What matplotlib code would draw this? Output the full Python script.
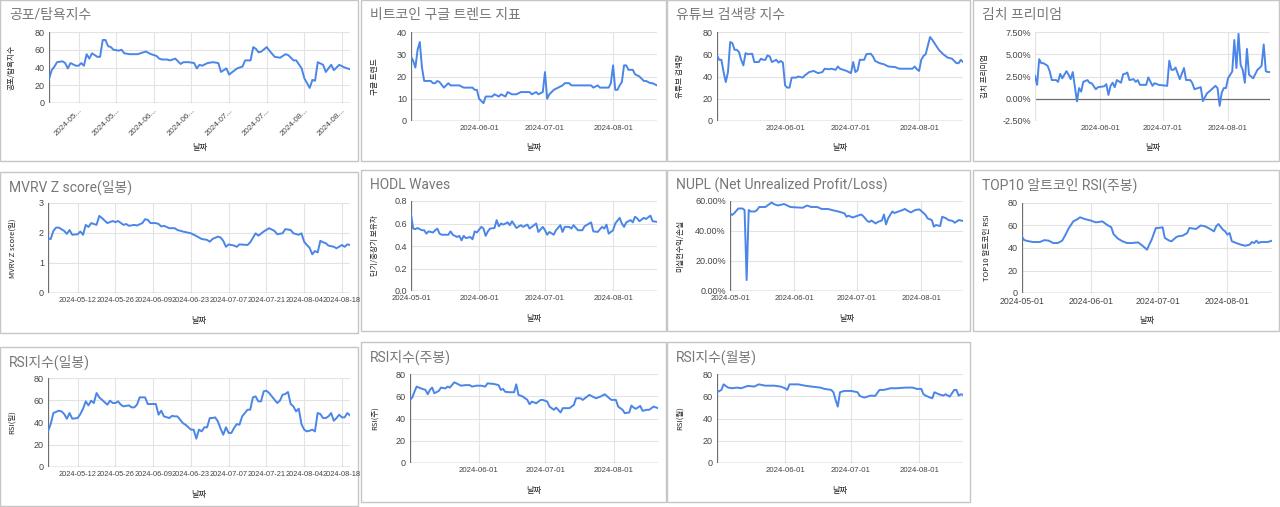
import numpy as np
import matplotlib
matplotlib.use('Agg')
import matplotlib.pyplot as plt
from matplotlib.patches import Rectangle
from matplotlib import font_manager

plt.rcParams['font.family'] = ['Noto Sans CJK KR', 'DejaVu Sans']

# fonts for tick labels (narrow one if installed)
names = {f.name for f in font_manager.fontManager.ttflist}
narrow = 'Liberation Sans Narrow' if 'Liberation Sans Narrow' in names else 'Liberation Sans'
normal = 'Liberation Sans' if 'Liberation Sans' in names else 'DejaVu Sans'
title_font = ['Roboto', 'Noto Sans CJK KR', 'DejaVu Sans'] if 'Roboto' in names else ['Noto Sans CJK KR', 'DejaVu Sans']

START = np.datetime64('2024-05-01')

# (day offset from 2024-05-01, value)
fear_greed = [(0,27),(1,37),(2,41),(3,46),(5,47),(6,45),(7,39),(8,45),(10,42),(11,42),(12,45),(13,42),(14,55),(15,50),(16,56),(18,52),(19,52),(20,71),(21,71),(22,64),(23,63),(24,60),(26,59),(27,60),(28,56),(30,55),(33,55),(35,57),(36,58),(38,55),(40,53),(41,50),(42,49),(44,49),(45,48),(47,50),(49,44),(50,46),(52,46),(54,45),(55,39),(56,43),(57,42),(59,45),(61,46),(63,45),(64,35),(66,39),(67,32),(70,39),(72,41),(73,48),(75,48),(76,63),(77,61),(78,57),(79,58),(81,63),(82,59),(84,52),(86,51),(88,55),(89,54),(91,48),(92,48),(94,39),(95,28),(97,17),(98,26),(99,25),(100,46),(102,43),(103,35),(105,43),(106,37),(108,43),(110,40),(111,39),(112,38)]

google_trend = [(0,29),(1,27),(2,24),(3,32),(4,35.5),(5,24),(6,18),(9,18),(10,17),(11,17),(12,18),(13,17.5),(15,15),(17,17),(18,16),(22,16),(24,15),(28,15),(29,14),(30,14),(31,10),(32,9),(33,8),(34,11),(37,11),(38,12),(40,11),(41,12),(43,11),(44,13),(46,12),(48,12),(50,13),(54,13),(55,12),(57,13),(58,12),(60,13),(61,22),(62,10),(63,12),(65,14),(67,15),(69,16),(70,17),(72,17),(73,16),(82,16),(83,15),(85,16),(86,15),(90,15),(91,17),(92,25),(93,14),(94,14),(95,16),(96,17.5),(97,25),(98,25),(99,23),(101,23),(102,21),(104,20),(106,18),(107,18),(109,17),(110,17),(112,16)]

youtube = [(0,59),(1,55),(2,55),(3,44),(4,35),(5,44),(6,71),(7,70),(8,64),(9,64),(10,62),(11,55),(12,50),(13,61),(14,60),(16,60.5),(17,53),(19,53),(20,56),(21,55),(22,55),(23,59),(24,58),(25,53),(26,54),(27,55),(28,52.5),(29,54),(30,52.5),(31,32),(32,30),(33,30),(34,39),(36,39),(37,40),(39,39),(40,41),(42,44),(44,45),(46,43),(48,44),(49,47),(51,46.5),(52,47),(54,46),(55,49),(56,47),(59,45),(61,43),(62,53),(63,44),(64,45.5),(65,55),(67,55),(68,60),(70,60.5),(71,58),(72,54),(74,52),(76,51),(78,49),(81,48.5),(83,47),(89,47),(90,49),(91,46.5),(92,45),(93,55),(94,58.5),(95,60),(97,75.5),(98,73),(99,70),(101,64),(103,60),(105,57),(107,56),(109,52),(110,52),(111,55),(112,53)]

kimchi = [(0,2.58),(1,1.56),(2,4.45),(3,4.0),(4,4.0),(6,3.7),(7,3.1),(8,2.1),(10,2.1),(11,1.9),(12,2.8),(13,2.3),(14,2.7),(15,3.1),(16,2.7),(17,2.2),(18,3.0),(20,-0.3),(21,1.2),(22,0.8),(23,1.9),(25,2.1),(26,1.8),(27,1.75),(29,1.07),(30,1.3),(33,1.4),(34,1.64),(35,0.43),(36,1.45),(37,1.8),(38,1.3),(39,2.1),(41,1.8),(42,2.76),(43,2.8),(44,2.95),(45,2.1),(47,2.2),(48,1.9),(49,2.1),(50,1.56),(53,1.56),(54,2.4),(56,1.45),(57,1.75),(59,1.56),(63,1.45),(64,4.27),(65,3.25),(66,3.25),(67,3.5),(69,2.2),(71,3.45),(72,2.1),(74,2.1),(75,1.75),(76,1.07),(79,1.3),(80,-0.26),(82,0.62),(83,0.8),(86,1.45),(87,1.2),(88,-0.8),(89,0.7),(90,1.2),(91,1.2),(92,2.3),(94,3.06),(95,6.6),(96,3.45),(97,7.3),(98,3.8),(99,3.25),(100,1.8),(101,5.6),(102,2.7),(104,2.3),(106,3.25),(107,3.45),(108,3.7),(109,6.1),(110,3.1),(111,3.0),(112,3.0)]

mvrv = [(0,1.82),(1,1.8),(2,2.07),(3,2.18),(4,2.18),(6,2.07),(7,1.97),(8,2.1),(9,1.94),(11,1.96),(12,2.05),(13,1.94),(14,2.27),(15,2.2),(16,2.33),(18,2.27),(19,2.57),(20,2.5),(22,2.33),(24,2.4),(25,2.36),(26,2.4),(28,2.27),(29,2.3),(30,2.24),(32,2.27),(33,2.25),(35,2.33),(36,2.46),(37,2.44),(38,2.33),(40,2.33),(41,2.3),(42,2.22),(43,2.24),(45,2.16),(47,2.16),(48,2.1),(50,2.05),(53,1.99),(55,1.9),(57,1.8),(59,1.77),(60,1.71),(61,1.8),(63,1.88),(64,1.85),(65,1.74),(66,1.54),(67,1.62),(69,1.58),(70,1.54),(71,1.62),(74,1.6),(75,1.69),(77,1.99),(78,1.91),(80,2.05),(82,2.16),(84,2.07),(85,1.96),(87,1.99),(88,2.13),(90,2.1),(91,1.99),(93,1.94),(94,1.99),(95,1.71),(96,1.6),(97,1.51),(98,1.29),(99,1.4),(100,1.35),(101,1.74),(102,1.69),(103,1.66),(104,1.58),(106,1.54),(107,1.49),(109,1.6),(110,1.54),(111,1.62),(112,1.6)]

hodl = [(0,0.68),(1,0.555),(2,0.55),(3,0.56),(5,0.54),(6,0.54),(7,0.51),(8,0.53),(10,0.52),(11,0.54),(12,0.555),(13,0.51),(14,0.5),(16,0.5),(17,0.5),(18,0.53),(19,0.5),(21,0.48),(22,0.49),(23,0.45),(24,0.49),(25,0.47),(27,0.48),(28,0.46),(29,0.53),(30,0.52),(32,0.57),(33,0.555),(34,0.49),(35,0.53),(36,0.555),(38,0.56),(39,0.63),(40,0.575),(41,0.6),(42,0.59),(44,0.61),(45,0.585),(46,0.62),(47,0.59),(48,0.56),(50,0.585),(51,0.57),(53,0.59),(54,0.555),(56,0.585),(57,0.6),(58,0.525),(60,0.57),(61,0.54),(62,0.5),(63,0.525),(65,0.5),(66,0.54),(68,0.585),(69,0.525),(70,0.57),(72,0.57),(73,0.555),(74,0.585),(76,0.54),(78,0.54),(79,0.575),(82,0.61),(83,0.53),(85,0.525),(87,0.57),(88,0.555),(89,0.59),(90,0.51),(92,0.54),(93,0.6),(95,0.65),(96,0.6),(97,0.57),(98,0.61),(100,0.63),(101,0.61),(102,0.66),(103,0.645),(104,0.62),(106,0.65),(107,0.64),(109,0.67),(110,0.62),(112,0.615)]

nupl = [(0,51.8),(1,50.7),(2,51.8),(4,55),(6,55),(7,54),(8,7.3),(9,54),(10,53),(12,53),(13,54),(14,56),(17,56),(18,57),(20,59),(21,58),(23,57),(26,58),(29,56),(31,55.8),(35,55.5),(37,57),(39,56),(42,56),(44,54.7),(47,54.7),(49,54),(52,53),(55,51.8),(56,49.5),(57,50.2),(59,49),(61,50),(63,51),(64,50),(66,46.7),(67,46),(68,47),(70,45),(71,46),(73,47),(74,51),(75,44.4),(76,48.4),(77,50.7),(78,53),(79,52),(81,53),(83,54),(84,54.7),(86,53),(87,52.4),(89,54),(91,54.4),(92,53.3),(94,50.7),(95,48.4),(97,47.3),(98,42.9),(99,44),(101,43.3),(102,49.5),(104,48.4),(105,47.3),(107,46.7),(108,45.5),(110,47.3),(112,46.7)]

top10_rsi = [(0,50),(1,47),(3,46),(5,45.3),(8,45.3),(10,47),(12,46.5),(14,44.4),(16,44.4),(18,46.5),(19,50),(21,57.8),(23,63.7),(25,65.8),(26,67.3),(28,65.8),(31,64.3),(33,62.8),(34,63),(36,63.7),(38,60.7),(40,58.4),(41,52.4),(43,48.3),(45,46),(47,44.4),(49,44.4),(52,45),(53,43.5),(54,42),(56,38.5),(57,43),(58,47),(60,57.8),(61,57.8),(63,58.4),(64,48.9),(66,46.5),(67,46),(69,49.5),(70,50.4),(72,51),(74,53.3),(75,57.8),(77,57.2),(78,56.9),(80,60),(82,59.3),(84,57.2),(86,54.8),(87,59.3),(88,61.3),(90,56.3),(91,54.8),(92,51.9),(93,53.3),(94,46),(96,44.4),(98,43),(100,42),(102,43),(103,45.3),(104,44.4),(105,46.5),(106,44.4),(107,45.3),(110,45.3),(112,46.5)]

rsi_day = [(0,32),(1,38.6),(2,48.5),(4,50.6),(5,50),(6,47.6),(7,43.4),(8,48.5),(9,43.4),(11,44),(12,47.6),(13,52.4),(14,59),(15,55.4),(16,59.6),(17,57.5),(18,66.5),(19,62.6),(20,60.5),(22,56),(23,59.6),(24,57.5),(25,57.5),(26,59),(27,56),(28,54.5),(30,55.4),(31,53.6),(32,53.6),(33,56),(34,62.6),(36,62.6),(37,56.6),(39,56.6),(40,56.6),(41,47),(42,50.6),(43,45.5),(45,44),(46,46),(47,45.5),(48,45.5),(50,39.5),(51,38),(53,33.6),(54,33.6),(55,25.5),(56,33.6),(57,32),(58,35.7),(59,35.7),(60,44),(61,44),(62,44.6),(63,41),(64,34.5),(65,29),(66,35.7),(67,30.6),(68,30.6),(69,35),(70,38.6),(71,38),(72,45.5),(74,51.5),(75,51.5),(76,62.6),(77,63.5),(78,59),(79,59),(80,68),(81,68.6),(82,66.5),(84,60.5),(85,57.5),(86,59.6),(87,65),(88,65.6),(89,67.4),(90,56.6),(91,54.5),(92,50),(93,52.4),(94,38.6),(95,33.6),(96,32),(97,32.6),(98,33.6),(99,32),(100,48.5),(101,47.6),(102,44),(103,44),(104,45.5),(105,48.5),(106,41.6),(107,44),(108,47),(109,44.6),(110,44.6),(111,48.5),(112,46.4)]

rsi_week = [(0,56.7),(1,58.8),(2,64),(3,68.7),(5,67),(7,65.7),(8,61.8),(9,65.7),(10,67.8),(11,62.7),(13,64.8),(14,67.8),(16,67),(17,68.7),(18,67.8),(20,72.5),(21,71.6),(23,69.5),(25,70),(27,70),(28,68.7),(30,69.5),(32,69.5),(34,68.7),(35,71.6),(38,71),(40,70),(41,65.7),(42,66.6),(43,64),(45,63.6),(47,63.6),(48,70.7),(49,61.2),(51,59.7),(53,56.7),(54,52.8),(55,55.2),(57,53.7),(59,56.7),(60,56.7),(62,55.2),(63,50.7),(65,47.8),(66,49.8),(68,45.4),(69,49.3),(72,49.3),(74,52.2),(75,58.2),(77,58.2),(78,56.7),(80,59.7),(81,61.2),(84,58.2),(86,59.7),(88,61.8),(90,58.2),(91,56.7),(93,56.7),(94,50.7),(96,47.8),(97,44.8),(99,45.4),(100,51.6),(101,49.8),(102,48.7),(104,51.3),(105,46.9),(107,47.8),(108,47.8),(110,50.7),(112,49.3)]

rsi_month = [(0,63.6),(2,65.7),(3,70.7),(5,67.8),(7,67.2),(9,67.8),(11,67.2),(14,69.3),(17,68.7),(19,70.7),(22,69.5),(26,69.5),(29,68.7),(31,67.2),(32,65.7),(33,70.7),(37,70.7),(40,69.5),(43,68.7),(47,67.8),(49,66.6),(52,65.7),(53,63.6),(54,56.7),(55,50.7),(56,63.6),(58,64.8),(61,64.8),(64,63.6),(65,60.3),(67,58.8),(70,60.6),(72,60.3),(74,65.7),(76,65.7),(79,67.2),(82,67.2),(86,67.8),(89,67.8),(91,66.6),(93,66.6),(94,61.8),(95,60.6),(97,58.8),(98,58.2),(99,63.6),(101,61.8),(103,60.6),(104,61.8),(106,59.7),(107,62.7),(108,65.7),(109,65.7),(110,60.6),(111,61.8),(112,61.2)]

# x tick sets
biweekly = ['2024-05-12','2024-05-26','2024-06-09','2024-06-23','2024-07-07','2024-07-21','2024-08-04','2024-08-18']
monthly = ['2024-06-01','2024-07-01','2024-08-01']
monthly4 = ['2024-05-01','2024-06-01','2024-07-01','2024-08-01']

W, H = 1280, 507
fig = plt.figure(figsize=(12.8, 5.07), dpi=100)
fig.patch.set_facecolor('white')

LINE = '#4a86e8'
GRID = '#e3e3e3'
BASE = '#6e6e6e'


def panel(box, axbox, title, ylabel, ylab_x, xlab_y, series, ylim, yticks, yfmt,
          xticks, xfont=narrow, xsize=5.6, rot=False, short=False):
    x0, y0, x1, y1 = box
    fig.add_artist(Rectangle((x0 / W, 1 - y1 / H), (x1 - x0) / W, (y1 - y0) / H,
                             transform=fig.transFigure, fc='white', ec='#c6c6c6', lw=1, zorder=-10))
    fig.text((x0 + 9) / W, 1 - (y0 + 15) / H, title, fontsize=10, color='#777777',
             va='center', ha='left', family=title_font)

    ax = fig.add_axes([axbox[0] / W, 1 - axbox[3] / H, (axbox[2] - axbox[0]) / W, (axbox[3] - axbox[1]) / H])
    ax.patch.set_alpha(0)
    days, vals = zip(*series)
    dates = START + np.array(days).astype('timedelta64[D]')
    ax.plot(dates, vals, color=LINE, lw=1.4, zorder=3, solid_joinstyle='round')

    ax.set_xlim(START, START + np.timedelta64(112, 'D'))
    ax.set_ylim(*ylim)
    ax.set_yticks(yticks)
    ax.set_yticklabels([yfmt(v) for v in yticks], fontsize=6.5, color='#444444', family=normal)

    xt = np.array(xticks, dtype='datetime64[D]')
    ax.set_xticks(xt)
    if short:
        labels = [t[:7] + '...' for t in xticks]
    else:
        labels = xticks
    if rot:
        ax.set_xticklabels(labels, fontsize=5.8, color='#444444', family=xfont,
                           rotation=45, ha='right', va='top', rotation_mode='anchor')
    else:
        ax.set_xticklabels(labels, fontsize=xsize, color='#444444', family=xfont)

    ax.tick_params(length=0, pad=3)
    for s in ax.spines.values():
        s.set_visible(False)
    ax.grid(True, color=GRID, lw=0.8, zorder=0)
    ax.axhline(0, color=BASE, lw=0.9, zorder=2)
    # left axis line: dark only when it starts at zero
    ax.axvline(START, color=BASE if ylim[0] == 0 else GRID, lw=0.9, zorder=2)

    fig.text(ylab_x / W, 1 - (axbox[1] + axbox[3]) / 2 / H, ylabel, rotation=90, fontsize=5.5,
             color='#222222', ha='center', va='center')
    fig.text((axbox[0] + axbox[2]) / 2 / W, 1 - xlab_y / H, '날짜', fontsize=6,
             color='#222222', ha='center', va='center')
    return ax


num = lambda v: '%g' % v
pct = lambda v: '%.2f%%' % v
dec = lambda v: '%.1f' % v

panel((0, 0, 358, 161), (49, 32, 350, 103), '공포/탐욕지수', '공포/탐욕지수', 12, 148,
      fear_greed, (0, 80), [0, 20, 40, 60, 80], num, biweekly, rot=True, short=True)
panel((361, 0, 666, 161), (411, 32, 657, 121), '비트코인 구글 트렌드 지표', '구글 트렌드', 375, 148,
      google_trend, (0, 40), [0, 10, 20, 30, 40], num, monthly)
panel((667, 0, 970, 161), (717, 32, 963, 121), '유튜브 검색량 지수', '유튜브 검색량', 680, 148,
      youtube, (0, 80), [0, 20, 40, 60, 80], num, monthly)
panel((973, 0, 1279, 161), (1035, 32, 1270, 121), '김치 프리미엄', '김치 프리미엄', 985, 148,
      kimchi, (-2.5, 7.5), [-2.5, 0, 2.5, 5, 7.5], pct, monthly)

panel((0, 172, 358, 333), (48, 203, 350, 293), 'MVRV Z score(일봉)', 'MVRV Z score(일)', 13, 320,
      mvrv, (0, 3), [0, 1, 2, 3], num, biweekly, xsize=5.3)
panel((361, 170, 666, 331), (411, 201, 657, 291), 'HODL Waves', '단기/중장기 보유자', 375, 318,
      hodl, (0, 0.8), [0, 0.2, 0.4, 0.6, 0.8], dec, monthly4)
panel((667, 170, 970, 331), (730, 201, 963, 291), 'NUPL (Net Unrealized Profit/Loss)', '미실현수익/손실', 680, 318,
      nupl, (0, 60), [0, 20, 40, 60], pct, monthly4)
panel((973, 170, 1279, 331), (1022, 203, 1272, 293), 'TOP10 알트코인 RSI(주봉)', 'TOP10 알트코인 RSI', 987, 320,
      top10_rsi, (0, 80), [0, 20, 40, 60, 80], num, monthly4, xfont=normal, xsize=6.3)

panel((0, 347, 358, 506), (48, 378, 350, 467), 'RSI지수(일봉)', 'RSI(일)', 12, 495,
      rsi_day, (0, 80), [0, 20, 40, 60, 80], num, biweekly, xsize=5.3)
panel((361, 342, 666, 502), (410, 374, 658, 463), 'RSI지수(주봉)', 'RSI(주)', 375, 490,
      rsi_week, (0, 80), [0, 20, 40, 60, 80], num, monthly)
panel((667, 342, 970, 502), (717, 374, 963, 463), 'RSI지수(월봉)', 'RSI(월)', 680, 490,
      rsi_month, (0, 80), [0, 20, 40, 60, 80], num, monthly)

fig.savefig('out.png', dpi=100)
